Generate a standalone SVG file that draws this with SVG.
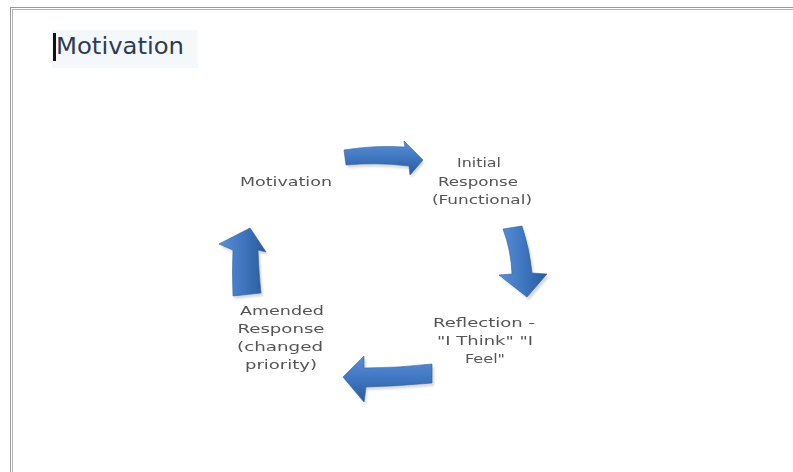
<svg xmlns="http://www.w3.org/2000/svg" width="793" height="472" viewBox="0 0 793 472">
<defs>
<linearGradient id="gh" x1="0" y1="0" x2="0" y2="1">
<stop offset="0" stop-color="#5b8fd2"/><stop offset="0.5" stop-color="#3f76c1"/><stop offset="1" stop-color="#2a5a9a"/>
</linearGradient>
<linearGradient id="gv" x1="0" y1="0" x2="1" y2="0">
<stop offset="0" stop-color="#5b8fd2"/><stop offset="0.5" stop-color="#3f76c1"/><stop offset="1" stop-color="#2a5a9a"/>
</linearGradient>
<filter id="soft" x="-10%" y="-10%" width="120%" height="120%"><feGaussianBlur stdDeviation="0.5"/></filter>
<filter id="sh" x="-20%" y="-20%" width="140%" height="140%"><feGaussianBlur stdDeviation="1.2"/></filter>
</defs>
<style>
.lbl{font-family:"DejaVu Sans","Liberation Sans",sans-serif;font-size:12.5px;fill:#555555;text-anchor:middle;}
.title{font-family:"DejaVu Sans","Liberation Sans",sans-serif;font-size:23px;fill:#2c3b52;}
.arr{stroke:#2e5f9f;stroke-width:0.6;}
.shadow{fill:#b9bec6;opacity:0.6;}
</style>
<rect width="793" height="472" fill="#ffffff"/>
<g id="frame" fill="none">
<line x1="10.5" y1="7" x2="10.5" y2="472" stroke="#9a9a9a"/>
<line x1="12.5" y1="9" x2="12.5" y2="472" stroke="#b4b4b4"/>
<line x1="10" y1="7.5" x2="793" y2="7.5" stroke="#9a9a9a"/>
<line x1="12" y1="9.5" x2="793" y2="9.5" stroke="#b4b4b4"/>
</g>
<g id="title">
<rect x="52" y="30" width="146" height="38" fill="#f5f8fb"/>
<text class="title" x="56" y="54" textLength="128" lengthAdjust="spacingAndGlyphs">Motivation</text>
<rect x="53" y="33" width="3" height="28" fill="#111"/>
</g>
<g id="connectors">
<g filter="url(#sh)">
<path class="shadow" d="M346,153 Q376,148 406,150 L405,144 L424,163 L411,178 L410,169 Q379,165 348,168 Z"/>
<path class="shadow" d="M505,231 L524,229 Q532,253 534,276 L549,277 L529,300 L501,278 L514,277 Q513,253 505,231 Z"/>
<path class="shadow" d="M434,367 L434,386 Q401,389 367,390 L366,405 L345,380 L366,359 L366,371 Q400,371 434,367 Z"/>
<path class="shadow" d="M235,253 L221,247 L252,231 L268,255 L260,253 Q261,278 263,296 L235,299 Q234,273 235,253 Z"/>
</g>
<g id="arrow-top" filter="url(#soft)"><path class="arr" fill="url(#gh)" d="M344,150 Q375,145 405,147 L404,141 L423,160 L410,175 L409,166 Q378,162 346,165 Z"/></g>
<g id="arrow-right" filter="url(#soft)"><path class="arr" fill="url(#gv)" d="M503,229 L522,226 Q530,250 532,273 L547,274 L527,297 L499,275 L512,274 Q511,250 503,229 Z"/></g>
<g id="arrow-bottom" filter="url(#soft)"><path class="arr" fill="url(#gh)" d="M432,364 L432,383 Q400,386 366,387 L364,402 L343,377 L364,356 L364,368 Q398,368 432,364 Z"/></g>
<g id="arrow-left" filter="url(#soft)"><path class="arr" fill="url(#gv)" d="M233,250 L219,244 L250,228 L266,252 L258,250 Q259,275 261,293 L233,296 Q232,270 233,250 Z"/></g>
</g>
<g id="node-motivation" filter="url(#soft)">
<text class="lbl" x="286" y="186" textLength="92" lengthAdjust="spacingAndGlyphs">Motivation</text>
</g>
<g id="node-initial" filter="url(#soft)">
<text class="lbl" x="479" y="167" textLength="44" lengthAdjust="spacingAndGlyphs">Initial</text>
<text class="lbl" x="478" y="186" textLength="80" lengthAdjust="spacingAndGlyphs">Response</text>
<text class="lbl" x="482" y="204" textLength="100" lengthAdjust="spacingAndGlyphs">(Functional)</text>
</g>
<g id="node-reflection" filter="url(#soft)">
<text class="lbl" x="484" y="327" textLength="102" lengthAdjust="spacingAndGlyphs">Reflection -</text>
<text class="lbl" x="485" y="345" textLength="96" lengthAdjust="spacingAndGlyphs">"I Think" "I</text>
<text class="lbl" x="485" y="363" textLength="40" lengthAdjust="spacingAndGlyphs">Feel"</text>
</g>
<g id="node-amended" filter="url(#soft)">
<text class="lbl" x="282" y="315" textLength="84" lengthAdjust="spacingAndGlyphs">Amended</text>
<text class="lbl" x="281" y="333" textLength="87" lengthAdjust="spacingAndGlyphs">Response</text>
<text class="lbl" x="280" y="351" textLength="86" lengthAdjust="spacingAndGlyphs">(changed</text>
<text class="lbl" x="281" y="369" textLength="72" lengthAdjust="spacingAndGlyphs">priority)</text>
</g>
</svg>
